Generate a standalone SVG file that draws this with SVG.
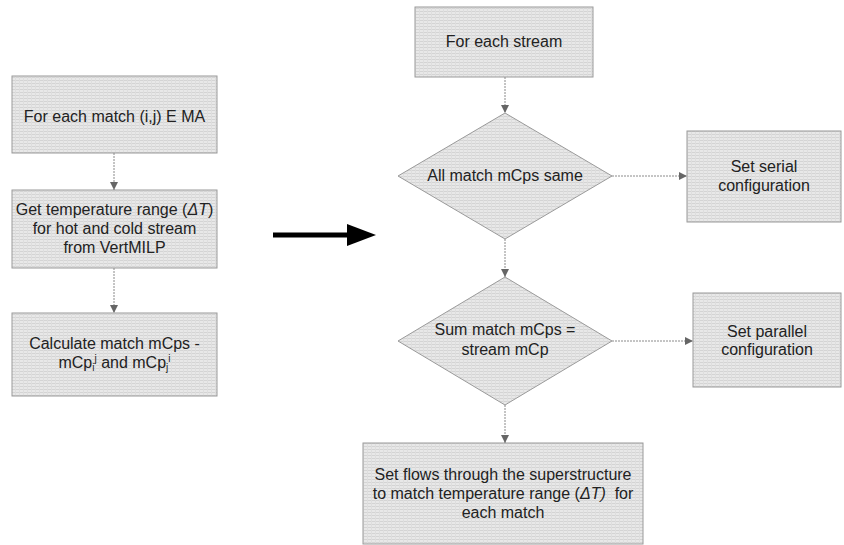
<svg xmlns="http://www.w3.org/2000/svg" width="844" height="545" viewBox="0 0 844 545">
<defs>
<pattern id="hatch" width="4" height="3" patternUnits="userSpaceOnUse">
<rect width="4" height="3" fill="#e8e8e8"/>
<rect y="2" width="4" height="1" fill="#d4d4d4"/>
<rect x="3" width="1" height="3" fill="#dedede"/>
</pattern>
<marker id="ah" viewBox="0 0 10 10" refX="10" refY="5" markerWidth="8" markerHeight="8" markerUnits="userSpaceOnUse" orient="auto">
<path d="M0,0 L10,5 L0,10 z" fill="#666"/>
</marker>
</defs>
<style>
.box{fill:url(#hatch);stroke:#9a9a9a;stroke-width:1}
.t{font-family:"Liberation Sans",Arial,sans-serif;font-size:16px;fill:#222;text-anchor:middle}
.c{stroke:#8a8a8a;stroke-width:1;fill:none;stroke-dasharray:2 1;marker-end:url(#ah)}
.s{font-size:10px}
</style>
<rect width="844" height="545" fill="#fff"/>

<g id="n1"><rect class="box" x="12" y="76" width="205" height="77"/>
<text class="t" x="114.5" y="122">For each match (i,j) E MA</text></g>

<g id="n2"><rect class="box" x="12" y="190" width="205" height="78"/>
<text class="t" x="114.5" y="215">Get temperature range (<tspan font-style="italic">ΔT</tspan>)</text>
<text class="t" x="114.5" y="234">for hot and cold stream</text>
<text class="t" x="114.5" y="253">from VertMILP</text></g>

<g id="n3"><rect class="box" x="12" y="313" width="205" height="83"/>
<text class="t" x="114.5" y="349">Calculate match mCps -</text>
<text class="t" x="114.5" y="368">mCp<tspan class="s" dy="3">i</tspan><tspan class="s" dy="-9">j</tspan><tspan dy="6"> and mCp</tspan><tspan class="s" dy="3">j</tspan><tspan class="s" dy="-9">i</tspan></text></g>

<g id="bigarrow">
<line x1="273" y1="235" x2="350" y2="235" stroke="#000" stroke-width="5"/>
<path d="M347,224 L376,235 L347,246 z" fill="#000"/>
</g>

<g id="n4"><rect class="box" x="415" y="7" width="178" height="70"/>
<text class="t" x="504" y="47">For each stream</text></g>

<g id="n5"><path class="box" d="M505,113 L612,176 L505,239 L398,176 z"/>
<text class="t" x="505" y="181">All match mCps same</text></g>

<g id="n6"><rect class="box" x="687" y="131" width="154" height="91"/>
<text class="t" x="764" y="172">Set serial</text>
<text class="t" x="764" y="191">configuration</text></g>

<g id="n7"><path class="box" d="M505,277 L612,341 L505,405 L398,341 z"/>
<text class="t" x="505" y="335">Sum match mCps =</text>
<text class="t" x="505" y="355">stream mCp</text></g>

<g id="n8"><rect class="box" x="693" y="293" width="148" height="94"/>
<text class="t" x="767" y="337">Set parallel</text>
<text class="t" x="767" y="355">configuration</text></g>

<g id="n9"><rect class="box" x="363" y="443" width="280" height="101"/>
<text class="t" x="503" y="480">Set flows through the superstructure</text>
<text class="t" x="503" y="499" xml:space="preserve">to match temperature range (<tspan font-style="italic">ΔT)</tspan>  for</text>
<text class="t" x="503" y="518">each match</text></g>

<g id="connectors">
<line class="c" x1="114" y1="153" x2="114" y2="190"/>
<line class="c" x1="114" y1="268" x2="114" y2="313"/>
<line class="c" x1="505" y1="77" x2="505" y2="113"/>
<line class="c" x1="505" y1="239" x2="505" y2="277"/>
<line class="c" x1="505" y1="405" x2="505" y2="443"/>
<line class="c" x1="612" y1="176" x2="687" y2="176"/>
<line class="c" x1="612" y1="341" x2="693" y2="341"/>
</g>
</svg>
